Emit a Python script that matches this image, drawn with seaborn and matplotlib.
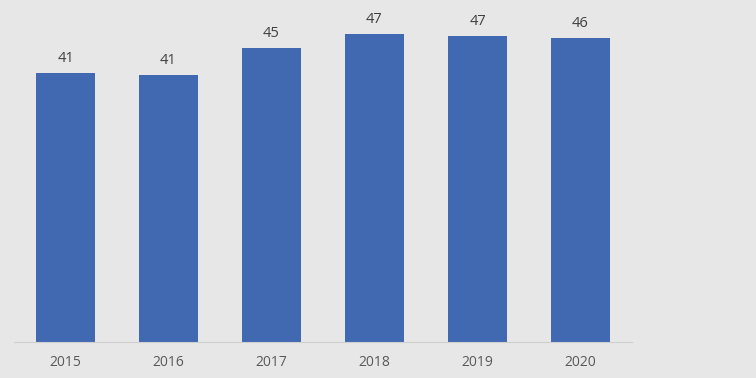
import matplotlib
matplotlib.use("Agg")
import matplotlib.pyplot as plt
import seaborn as sns
import pandas as pd

years = ["2015", "2016", "2017", "2018", "2019", "2020"]
values = [41.1, 40.8, 44.9, 47.0, 46.7, 46.4]
labels = ["41", "41", "45", "47", "47", "46"]

bg = "#E7E7E7"
df = pd.DataFrame({"year": years, "value": values})

sns.set_theme(style="white")
plt.rcParams["font.family"] = ["Open Sans", "DejaVu Sans"]

fig = plt.figure(figsize=(7.56, 3.78), dpi=100, facecolor=bg)
ax = fig.add_axes([14 / 756, 36 / 378, 618 / 756, 327.5 / 378])
ax.set_facecolor(bg)

sns.barplot(data=df, x="year", y="value", color="#4169B2", saturation=1,
            width=0.573, linewidth=0, ax=ax)

ax.set_xlim(-0.5, 5.5)
ax.set_ylim(0, 50)
for i, (v, lab) in enumerate(zip(values, labels)):
    ax.annotate(lab, (i, v), xytext=(0, 5), textcoords="offset points",
                ha="center", va="bottom", fontsize=10.5, color="#404040")

for s in ["top", "right", "left"]:
    ax.spines[s].set_visible(False)
ax.spines["bottom"].set_color("#CFCFCF")
ax.spines["bottom"].set_linewidth(0.8)
ax.set_yticks([])
ax.set_xlabel("")
ax.set_ylabel("")
ax.tick_params(axis="x", length=0, pad=9, labelsize=10, labelcolor="#595959")

fig.savefig("out.png", dpi=100, facecolor=bg)
